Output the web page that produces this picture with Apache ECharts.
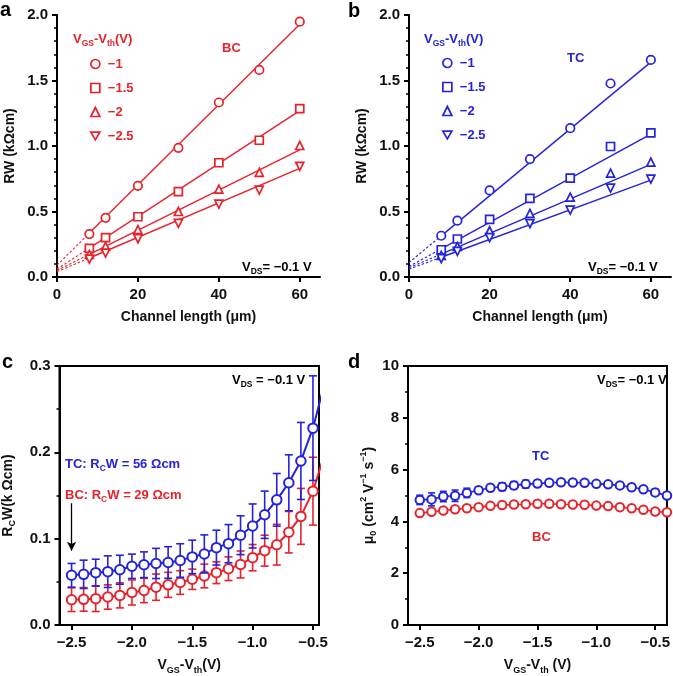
<!DOCTYPE html>
<html>
<head>
<meta charset="utf-8">
<script src="https://cdn.jsdelivr.net/npm/echarts@6/dist/echarts.min.js"></script>
<style>html,body{margin:0;padding:0;background:#fff;}#c{width:673px;height:676px;}</style>
</head>
<body>
<div id="c"></div>
<script>
// ---------- data ----------
const channelLengths = [8, 12, 20, 30, 40, 50, 60];
const legendLabels = ['−1', '−1.5', '−2', '−2.5'];
// panel a (BC)
const aRW_m1  = [0.328, 0.452, 0.696, 0.986, 1.332, 1.581, 1.949];
const aRW_m15 = [0.219, 0.300, 0.460, 0.651, 0.872, 1.044, 1.286];
const aRW_m2  = [0.173, 0.234, 0.361, 0.500, 0.671, 0.798, 1.004];
const aRW_m25 = [0.137, 0.183, 0.292, 0.410, 0.557, 0.663, 0.844];
const aFitAt0  = [0.09, 0.06, 0.05, 0.04];
const aFitAt8  = [0.335, 0.221, 0.173, 0.145];
const aFitAt60 = [1.93, 1.27, 0.97, 0.83];
// panel b (TC)
const bRW_m1  = [0.315, 0.430, 0.661, 0.900, 1.136, 1.477, 1.657];
const bRW_m15 = [0.208, 0.290, 0.440, 0.600, 0.755, 0.996, 1.100];
const bRW_m2  = [0.165, 0.234, 0.353, 0.485, 0.610, 0.793, 0.877];
const bRW_m25 = [0.140, 0.196, 0.300, 0.407, 0.511, 0.679, 0.747];
const bFitAt0  = [0.11, 0.08, 0.07, 0.06];
const bFitAt8  = [0.314, 0.215, 0.175, 0.151];
const bFitAt60 = [1.64, 1.09, 0.86, 0.74];
// panels c, d
const vgs = [-2.5,-2.4,-2.3,-2.2,-2.1,-2.0,-1.9,-1.8,-1.7,-1.6,-1.5,-1.4,-1.3,-1.2,-1.1,-1.0,-0.9,-0.8,-0.7,-0.6,-0.5,-0.4];
const cTC    = [0.0576,0.0587,0.0606,0.0618,0.064,0.068,0.0698,0.0713,0.0724,0.0747,0.0789,0.0823,0.0896,0.0942,0.104,0.1147,0.1277,0.145,0.1647,0.190,0.228,0.282];
const cTCerr = [0.0137,0.0164,0.0156,0.0183,0.0168,0.0141,0.0149,0.0175,0.0183,0.0194,0.0194,0.0221,0.0202,0.0221,0.0225,0.0255,0.0274,0.0305,0.0324,0.0446,0.0606,0.07];
const cBC    = [0.0293,0.0297,0.0305,0.0324,0.0343,0.0377,0.040,0.0438,0.0465,0.0492,0.053,0.0568,0.0606,0.0652,0.0701,0.078,0.0861,0.093,0.1075,0.1258,0.155,0.20];
const cBCerr = [0.0137,0.0137,0.0149,0.0141,0.0145,0.0145,0.0141,0.0152,0.0145,0.0137,0.0118,0.0137,0.0126,0.0137,0.0156,0.0152,0.0179,0.0236,0.024,0.0324,0.0393,0.045];
const dTC    = [4.83,4.85,4.96,4.99,5.10,5.20,5.30,5.34,5.39,5.44,5.46,5.49,5.51,5.50,5.49,5.45,5.43,5.39,5.32,5.24,5.12,5.00];
const dTCerr = [0.18,0.25,0.20,0.22,0.18,0.12,0.12,0.15,0.15,0.15,0.12,0.12,0.10,0.10,0.10,0.10,0.10,0.10,0.10,0.10,0.12,0.12];
const dBC    = [4.32,4.37,4.42,4.47,4.51,4.55,4.60,4.63,4.65,4.66,4.68,4.68,4.66,4.65,4.64,4.61,4.59,4.55,4.51,4.45,4.38,4.35];
const dBCerr = [0.06,0.06,0.06,0.06,0.06,0.06,0.06,0.06,0.06,0.06,0.06,0.06,0.06,0.06,0.06,0.06,0.06,0.06,0.06,0.06,0.06,0.06];
const xTicksL = [0, 20, 40, 60];
const xTicksV = [-2.5, -2.0, -1.5, -1.0, -0.5];

// ---------- style ----------
const FONT = '"Liberation Sans", Arial, Helvetica, sans-serif';
const RED = '#e8222a';
const BLUE = '#2323dc';
const BLACK = '#000';
const symbols = ['circle', 'rect', 'triangle', 'path://M0,0L10,0L5,8.7Z'];

const nameRich = {
  n: {fontSize: 14, fontWeight: 'bold', fontFamily: FONT, color: '#111', lineHeight: 19},
  s: {fontSize: 9, fontWeight: 'bold', fontFamily: FONT, color: '#111', verticalAlign: 'bottom'},
  p: {fontSize: 9, fontWeight: 'bold', fontFamily: FONT, color: '#111', verticalAlign: 'top'}
};
function gRich(c, fs) {
  fs = fs || 13;
  return {
    n: {fill: c, fontSize: fs, fontWeight: 'bold', fontFamily: FONT, lineHeight: 18},
    s: {fill: c, fontSize: 8.5, fontWeight: 'bold', fontFamily: FONT, verticalAlign: 'bottom'}
  };
}
function gText(x, y, text, color, fs) {
  return {type: 'text', x: x, y: y, z: 50, style: {text: text, fill: color, font: 'bold ' + (fs || 13) + 'px ' + FONT, align: 'left', verticalAlign: 'middle', rich: gRich(color, fs)}};
}
function panelLetter(x, y, t) {
  return {type: 'text', x: x, y: y, z: 50, style: {text: t, fill: '#000', font: 'bold 20px ' + FONT, align: 'left', verticalAlign: 'middle'}};
}

const axisLineS = {show: true, onZero: false, lineStyle: {color: BLACK, width: 2}};
const labelS = {fontSize: 15, fontWeight: 'bold', color: '#111', fontFamily: FONT};

function xAxisL(gi) {
  return {
    gridIndex: gi, type: 'value', min: 0, max: 65,
    axisLine: axisLineS,
    axisTick: {show: true, length: 5, customValues: xTicksL, lineStyle: {color: BLACK, width: 2}},
    axisLabel: Object.assign({margin: 10, customValues: xTicksL}, labelS),
    splitLine: {show: false},
    name: 'Channel length (μm)', nameLocation: 'middle', nameGap: 33,
    nameTextStyle: {fontSize: 14, fontWeight: 'bold', color: '#111', fontFamily: FONT}
  };
}
function xAxisV(gi, max, nameStr) {
  return {
    gridIndex: gi, type: 'value', min: -2.6, max: max,
    axisLine: axisLineS,
    axisTick: {show: true, length: 5, customValues: xTicksV, lineStyle: {color: BLACK, width: 2}},
    axisLabel: Object.assign({margin: 10, customValues: xTicksV, formatter: v => (v < 0 ? '−' : '') + Math.abs(v).toFixed(1)}, labelS),
    splitLine: {show: false},
    name: nameStr, nameLocation: 'middle', nameGap: 31,
    nameTextStyle: {rich: nameRich}
  };
}
function yAxisG(gi, min, max, interval, split, fmt, nameStr, gap) {
  return {
    gridIndex: gi, type: 'value', min: min, max: max, interval: interval,
    axisLine: axisLineS,
    axisTick: {show: true, length: 5, lineStyle: {color: BLACK, width: 2}},
    minorTick: {show: true, splitNumber: split, length: 3, lineStyle: {color: BLACK, width: 1.5}},
    axisLabel: Object.assign({margin: 9, formatter: fmt}, labelS),
    splitLine: {show: false}, minorSplitLine: {show: false},
    name: nameStr, nameLocation: 'middle', nameGap: gap,
    nameTextStyle: {rich: nameRich}
  };
}
function rightBorder(gi, min, max) {
  return {gridIndex: gi, type: 'value', position: 'right', min: min, max: max,
    axisLine: {show: true, lineStyle: {color: BLACK, width: 1.5}}, axisTick: {show: false},
    axisLabel: {show: false}, splitLine: {show: false}};
}

function rwSeries(prefix, gi, yi, sets, f0, f8, f60, color) {
  const out = [];
  sets.forEach((arr, k) => {
    out.push({
      name: prefix + legendLabels[k], type: 'scatter', xAxisIndex: gi, yAxisIndex: yi,
      data: channelLengths.map((x, i) => [x, arr[i]]),
      symbol: symbols[k], symbolSize: k === 0 ? 8.5 : 8,
      itemStyle: {color: '#fff', borderColor: color, borderWidth: 1.7, opacity: 1}, z: 5
    });
    out.push({
      type: 'line', xAxisIndex: gi, yAxisIndex: yi, showSymbol: false, silent: true,
      data: [[8, f8[k]], [60, f60[k]]], lineStyle: {color: color, width: 1.4}, z: 3
    });
    out.push({
      type: 'line', xAxisIndex: gi, yAxisIndex: yi, showSymbol: false, silent: true,
      data: [[0, f0[k]], [8, f8[k]]], lineStyle: {color: color, width: 1.1, type: [2.5, 2]}, z: 3
    });
  });
  return out;
}

function errSeries(gi, mean, err, color, capHalf, z) {
  return {
    type: 'custom', xAxisIndex: gi, yAxisIndex: gi === 2 ? 4 : 5, clip: true, silent: true, z: z,
    data: vgs.map((x, i) => [x, mean[i] - err[i], mean[i] + err[i]]),
    renderItem: function (params, api) {
      const x = api.value(0);
      const p1 = api.coord([x, api.value(2)]);
      const p2 = api.coord([x, api.value(1)]);
      const st = {stroke: color, lineWidth: 1.6};
      return {type: 'group', children: [
        {type: 'line', shape: {x1: p1[0], y1: p1[1], x2: p2[0], y2: p2[1]}, style: st},
        {type: 'line', shape: {x1: p1[0] - capHalf, y1: p1[1], x2: p1[0] + capHalf, y2: p1[1]}, style: st},
        {type: 'line', shape: {x1: p2[0] - capHalf, y1: p2[1], x2: p2[0] + capHalf, y2: p2[1]}, style: st}
      ]};
    }
  };
}
function meanSeries(gi, mean, color, size, lw, z, extra) {
  return Object.assign({
    type: 'line', xAxisIndex: gi, yAxisIndex: gi === 2 ? 4 : 5, clip: true, silent: true, z: z,
    data: vgs.map((x, i) => [x, mean[i]]),
    symbol: 'circle', symbolSize: size, showSymbol: true, showAllSymbol: true,
    itemStyle: {color: '#fff', borderColor: color, borderWidth: 2},
    lineStyle: {color: color, width: lw}
  }, extra || {});
}

function legendFor(prefix, left, top, color) {
  return {
    left: left, top: top, orient: 'vertical', itemWidth: 9, itemHeight: 9, itemGap: 10,
    selectedMode: false,
    data: legendLabels.map((l, k) => ({
      name: prefix + l, icon: symbols[k],
      itemStyle: {color: '#fff', borderColor: color, borderWidth: 1.7}
    })),
    formatter: n => n.slice(1),
    textStyle: {color: color, fontSize: 13, fontWeight: 'bold', fontFamily: FONT, lineHeight: 14, padding: [0, 0, 0, 3]}
  };
}

const option = {
  backgroundColor: '#fff',
  animation: false,
  grid: [
    {left: 57, top: 15, width: 263, height: 262},
    {left: 409, top: 15, width: 262, height: 262},
    {left: 57, top: 366, width: 262, height: 262, show: true, borderColor: BLACK, borderWidth: 2, backgroundColor: 'transparent'},
    {left: 408, top: 366, width: 264, height: 262, show: true, borderColor: BLACK, borderWidth: 2, backgroundColor: 'transparent'}
  ],
  xAxis: [
    xAxisL(0), xAxisL(1),
    xAxisV(2, -0.45, '{n|V}{s|GS}{n|-V}{s|th}{n|(V)}'),
    xAxisV(3, -0.4, '{n|V}{s|GS}{n|-V}{s|th}{n| (V)}')
  ],
  yAxis: [
    yAxisG(0, 0, 2, 0.5, 5, v => v.toFixed(1), '{n|RW (kΩcm)}', 37),
    yAxisG(1, 0, 2, 0.5, 5, v => v.toFixed(1), '{n|RW (kΩcm)}', 37),
    rightBorder(0, 0, 2),
    rightBorder(1, 0, 2),
    yAxisG(2, 0, 0.3, 0.1, 2, v => v.toFixed(1), '{n|R}{s|C}{n|W(k Ωcm)}', 42),
    yAxisG(3, 0, 10, 2, 2, v => String(v), '{n|μ}{s|0}{n| (cm}{p|2}{n| V}{p|−1}{n| s}{p|−1}{n|)}', 27)
  ],
  legend: [legendFor('a', 85, 52, RED), legendFor('b', 437, 51, BLUE)],
  series: [].concat(
    rwSeries('a', 0, 0, [aRW_m1, aRW_m15, aRW_m2, aRW_m25], aFitAt0, aFitAt8, aFitAt60, RED),
    rwSeries('b', 1, 1, [bRW_m1, bRW_m15, bRW_m2, bRW_m25], bFitAt0, bFitAt8, bFitAt60, BLUE),
    [
      errSeries(2, cBC, cBCerr, RED, 4, 2),
      meanSeries(2, cBC, RED, 9.5, 2, 4, {
        markLine: {silent: true, symbol: ['none', 'arrow'], symbolSize: [7, 9],
          lineStyle: {color: BLACK, width: 1.3, type: 'solid'}, label: {show: false},
          data: [[{coord: [-2.5, 0.141]}, {coord: [-2.5, 0.086]}]]}
      }),
      errSeries(2, cTC, cTCerr, BLUE, 4, 5),
      meanSeries(2, cTC, BLUE, 9.5, 2, 6),
      errSeries(3, dBC, dBCerr, RED, 3.5, 2),
      meanSeries(3, dBC, RED, 8.5, 1.6, 4),
      errSeries(3, dTC, dTCerr, BLUE, 3.5, 5),
      meanSeries(3, dTC, BLUE, 8.5, 1.6, 6)
    ]
  ),
  graphic: [
    panelLetter(0, 10, 'a'), panelLetter(348, 11, 'b'), panelLetter(2, 362, 'c'), panelLetter(348, 362, 'd'),
    gText(73, 39, '{n|V}{s|GS}{n|-V}{s|th}{n|(V)}', RED),
    gText(222, 48, '{n|BC}', RED),
    gText(242, 267, '{n|V}{s|DS}{n|= −0.1 V}', BLACK),
    gText(424, 39, '{n|V}{s|GS}{n|-V}{s|th}{n|(V)}', BLUE),
    gText(567, 58, '{n|TC}', BLUE),
    gText(588, 267, '{n|V}{s|DS}{n|= −0.1 V}', BLACK),
    gText(232, 380, '{n|V}{s|DS}{n| = −0.1 V}', BLACK),
    gText(65, 464, '{n|TC: R}{s|C}{n|W = 56 Ωcm}', BLUE),
    gText(65, 495, '{n|BC: R}{s|C}{n|W = 29 Ωcm}', RED),
    gText(597, 380, '{n|V}{s|DS}{n|= −0.1 V}', BLACK),
    gText(532, 456, '{n|TC}', BLUE),
    gText(532, 537, '{n|BC}', RED)
  ]
};

const chart = echarts.init(document.getElementById('c'), null, {renderer: 'canvas'});
chart.setOption(option);
</script>
</body>
</html>
